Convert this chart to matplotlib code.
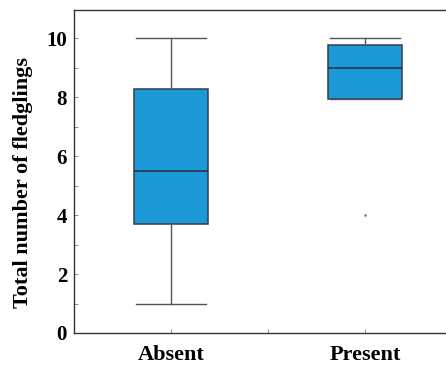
import matplotlib
matplotlib.use('Agg')
import matplotlib.pyplot as plt
from matplotlib.ticker import MultipleLocator

# values
groups = ['Absent', 'Present']
whislo = [1.0, 7.93]
q1 = [3.7, 7.93]
med = [5.5, 9.0]
q3 = [8.28, 9.76]
whishi = [10.0, 10.0]
fliers = [[], [4.0]]

box_color = '#1b9ad7'

plt.rc('font', family='Liberation Serif', weight='bold')

stats = []
for i in range(len(groups)):
  stats.append({'label': groups[i], 'whislo': whislo[i], 'q1': q1[i], 'med': med[i],
                'q3': q3[i], 'whishi': whishi[i], 'fliers': fliers[i]})

fig = plt.figure(figsize=(4.46, 3.66), dpi=100)
ax = fig.add_axes([74/446, 33/366, 1 - 74/446 + 0.01, 323/366])

ax.bxp(stats, positions=[1, 2], widths=0.385, patch_artist=True,
       boxprops=dict(facecolor=box_color, edgecolor='#3a3a4a', linewidth=1.1),
       medianprops=dict(color='#2a2a3a', linewidth=1.1),
       whiskerprops=dict(color='#555555', linewidth=1.0),
       capprops=dict(color='#555555', linewidth=1.0),
       capwidths=0.36,
       flierprops=dict(marker='.', markersize=2, markerfacecolor='#888888',
                       markeredgecolor='#888888'))

ax.set_xlim(0.5, 2.44)
ax.set_ylim(0, 10.95)
ax.set_xticks([1, 2])
ax.set_xticklabels(groups, fontsize=16, fontweight='bold')
ax.xaxis.set_minor_locator(MultipleLocator(0.5))
ax.yaxis.set_major_locator(MultipleLocator(2))
ax.yaxis.set_minor_locator(MultipleLocator(1))
ax.tick_params(axis='both', which='both', direction='in', length=3, width=0.6, color='#777777')
ax.tick_params(axis='y', labelsize=15, pad=5)
ax.tick_params(axis='x', pad=9)
for lbl in ax.get_yticklabels():
  lbl.set_fontweight('bold')
ax.set_ylabel('Total number of fledglings', fontsize=16, fontweight='bold')
ax.yaxis.set_label_coords(-0.11, 0.465)

ax.spines['right'].set_visible(False)
for s in ['left', 'bottom', 'top']:
  ax.spines[s].set_linewidth(1.0)
  ax.spines[s].set_color('#333333')

fig.savefig('out.png', dpi=100)
